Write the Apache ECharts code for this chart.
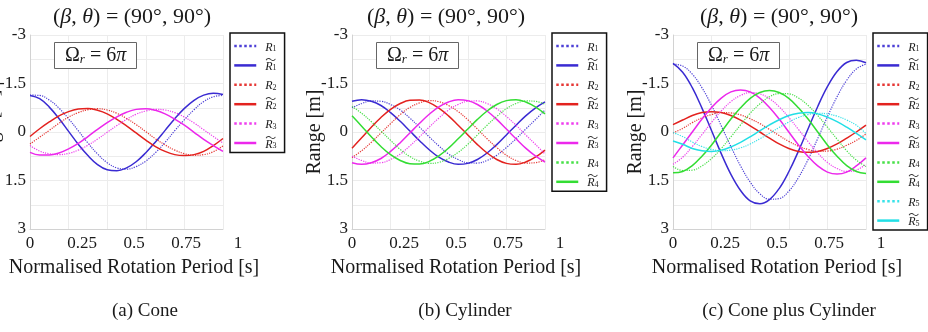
<!DOCTYPE html>
<html>
<head>
<meta charset="utf-8">
<script src="https://cdn.jsdelivr.net/npm/echarts@6/dist/echarts.min.js"></script>
<style>
  html, body { margin: 0; padding: 0; background: #fff; }
  #chart { width: 928px; height: 332px; }
</style>
</head>
<body>
<div id="chart"></div>
<script>
// sample times (s) along the normalised rotation period
const timeS = [0, 0.0465, 0.093, 0.1395, 0.186, 0.2325, 0.279, 0.3255, 0.372, 0.4185, 0.465,
  0.5115, 0.558, 0.6045, 0.651, 0.6975, 0.744, 0.7905, 0.837, 0.8835, 0.93];

const xTickLabels = [0, 0.25, 0.5, 0.75, 1];
const yTickLabels = [-3, -1.5, 0, 1.5, 3];

// (a) Cone  -- "t" = estimated (tilde) range
const coneR1  = [-1.14, -1.13, -0.99, -0.74, -0.41, -0.04, 0.34, 0.68, 0.95, 1.11, 1.15, 1.07, 0.9, 0.64, 0.32, -0.04, -0.38, -0.69, -0.94, -1.09, -1.13];
const coneR1t = [-1.13, -1.03, -0.77, -0.42, -0.02, 0.38, 0.73, 1.01, 1.17, 1.2, 1.11, 0.92, 0.64, 0.31, -0.05, -0.41, -0.73, -0.98, -1.14, -1.2, -1.16];
const coneR2  = [0.37, 0.16, -0.05, -0.27, -0.46, -0.6, -0.69, -0.72, -0.68, -0.58, -0.42, -0.23, -0.01, 0.21, 0.4, 0.56, 0.67, 0.72, 0.7, 0.61, 0.43];
const coneR2t = [0.14, -0.1, -0.31, -0.5, -0.63, -0.71, -0.73, -0.67, -0.56, -0.39, -0.19, 0.03, 0.25, 0.45, 0.6, 0.7, 0.73, 0.7, 0.6, 0.42, 0.2];
const coneR3  = [0.42, 0.59, 0.67, 0.7, 0.66, 0.56, 0.41, 0.22, 0.01, -0.2, -0.39, -0.55, -0.65, -0.7, -0.68, -0.6, -0.46, -0.28, -0.07, 0.14, 0.34];
const coneR3t = [0.63, 0.71, 0.71, 0.65, 0.52, 0.35, 0.14, -0.08, -0.29, -0.47, -0.61, -0.7, -0.72, -0.67, -0.56, -0.4, -0.21, 0.01, 0.23, 0.42, 0.6];

// (b) Cylinder
const cylR1  = [-0.75, -0.88, -0.96, -0.95, -0.85, -0.68, -0.43, -0.15, 0.15, 0.43, 0.68, 0.85, 0.95, 0.96, 0.88, 0.72, 0.48, 0.21, -0.09, -0.38, -0.68];
const cylR1t = [-0.95, -1.0, -0.95, -0.82, -0.6, -0.33, -0.03, 0.27, 0.55, 0.78, 0.93, 1.0, 0.97, 0.85, 0.65, 0.39, 0.09, -0.21, -0.5, -0.74, -0.93];
const cylR2  = [0.79, 0.58, 0.32, 0.03, -0.26, -0.54, -0.76, -0.9, -0.97, -0.94, -0.82, -0.63, -0.38, -0.09, 0.21, 0.48, 0.72, 0.88, 0.96, 0.95, 0.86];
const cylR2t = [0.5, 0.18, -0.15, -0.45, -0.7, -0.88, -0.98, -0.99, -0.91, -0.74, -0.5, -0.21, 0.09, 0.39, 0.65, 0.85, 0.97, 1.0, 0.93, 0.78, 0.56];
const cylR3  = [0.75, 0.88, 0.96, 0.95, 0.85, 0.68, 0.43, 0.15, -0.15, -0.43, -0.68, -0.85, -0.95, -0.96, -0.88, -0.72, -0.48, -0.21, 0.09, 0.38, 0.68];
const cylR3t = [0.95, 1.0, 0.95, 0.82, 0.6, 0.33, 0.03, -0.27, -0.55, -0.78, -0.93, -1.0, -0.97, -0.85, -0.65, -0.39, -0.09, 0.21, 0.5, 0.74, 0.93];
const cylR4  = [-0.79, -0.58, -0.32, -0.03, 0.26, 0.54, 0.76, 0.9, 0.97, 0.94, 0.82, 0.63, 0.38, 0.09, -0.21, -0.48, -0.72, -0.88, -0.96, -0.95, -0.86];
const cylR4t = [-0.5, -0.18, 0.15, 0.45, 0.7, 0.88, 0.98, 0.99, 0.91, 0.74, 0.5, 0.21, -0.09, -0.39, -0.65, -0.85, -0.97, -1.0, -0.93, -0.78, -0.56];

// (c) Cone plus Cylinder
const bothR1  = [-2.1, -2.04, -1.79, -1.37, -0.82, -0.19, 0.45, 1.05, 1.55, 1.91, 2.08, 2.06, 1.83, 1.41, 0.85, 0.2, -0.47, -1.09, -1.6, -1.95, -2.1];
const bothR1t = [-2.12, -1.85, -1.37, -0.74, -0.04, 0.67, 1.31, 1.81, 2.13, 2.22, 2.09, 1.75, 1.23, 0.59, -0.1, -0.79, -1.4, -1.87, -2.15, -2.22, -2.14];
const bothR2  = [0.03, -0.11, -0.29, -0.44, -0.54, -0.6, -0.59, -0.53, -0.41, -0.26, -0.08, 0.11, 0.29, 0.44, 0.54, 0.6, 0.59, 0.53, 0.41, 0.26, 0.06];
const bothR2t = [-0.23, -0.37, -0.51, -0.6, -0.63, -0.6, -0.51, -0.37, -0.19, 0, 0.19, 0.37, 0.51, 0.6, 0.63, 0.6, 0.51, 0.37, 0.19, 0, -0.21];
const bothR3  = [1.0, 0.78, 0.45, 0.08, -0.3, -0.65, -0.94, -1.13, -1.22, -1.18, -1.03, -0.78, -0.45, -0.08, 0.3, 0.65, 0.94, 1.13, 1.22, 1.18, 1.0];
const bothR3t = [0.8, 0.4, 0, -0.4, -0.76, -1.05, -1.24, -1.3, -1.24, -1.05, -0.76, -0.4, 0, 0.4, 0.76, 1.05, 1.24, 1.3, 1.24, 1.05, 0.8];
const bothR4  = [1.07, 1.19, 1.18, 1.05, 0.82, 0.51, 0.15, -0.22, -0.58, -0.87, -1.09, -1.19, -1.18, -1.05, -0.82, -0.51, -0.15, 0.22, 0.58, 0.87, 1.07];
const bothR4t = [1.26, 1.22, 1.04, 0.75, 0.4, 0, -0.4, -0.75, -1.04, -1.22, -1.28, -1.22, -1.04, -0.75, -0.4, 0, 0.4, 0.75, 1.04, 1.22, 1.28];
const bothR5  = [0.02, 0.14, 0.31, 0.45, 0.54, 0.58, 0.56, 0.49, 0.37, 0.21, 0.04, -0.14, -0.31, -0.45, -0.54, -0.58, -0.56, -0.49, -0.37, -0.21, 0.05];
const bothR5t = [0.28, 0.38, 0.51, 0.58, 0.6, 0.56, 0.46, 0.32, 0.15, -0.04, -0.22, -0.38, -0.51, -0.58, -0.6, -0.56, -0.46, -0.32, -0.15, 0.04, 0.24];

const colors = ['#3a2bd2', '#e3221f', '#ec28ec', '#33dd33', '#22dfe6'];

const panels = [
  { key: 'a', left: 30, caption: '(a) Cone', titleX: 127, capX: 140,
    sets: [coneR1, coneR1t, coneR2, coneR2t, coneR3, coneR3t] },
  { key: 'b', left: 352, caption: '(b) Cylinder', titleX: 441, capX: 460,
    sets: [cylR1, cylR1t, cylR2, cylR2t, cylR3, cylR3t, cylR4, cylR4t] },
  { key: 'c', left: 673, caption: '(c) Cone plus Cylinder', titleX: 774, capX: 784,
    sets: [bothR1, bothR1t, bothR2, bothR2t, bothR3, bothR3t, bothR4, bothR4t, bothR5, bothR5t] }
];

const serif = 'Liberation Serif';
const ink = '#1a1a1a';
const gridTop = 35, gridH = 194, boxW = 193, labelW = 208;

const grid = [], xAxis = [], yAxis = [], series = [], legend = [], title = [];

panels.forEach((p, i) => {
  grid.push({ left: p.left, top: gridTop, width: boxW, height: gridH, outerBoundsMode: 'none' });
  grid.push({ left: p.left, top: gridTop, width: labelW, height: gridH, outerBoundsMode: 'none' });

  xAxis.push({
    gridIndex: 2 * i, type: 'value', min: 0, max: 0.93, interval: 0.186,
    axisLabel: { show: false }, axisTick: { show: false },
    axisLine: { onZero: false, lineStyle: { color: '#d2d2d2' } },
    splitLine: { lineStyle: { color: '#ececec' } }
  });
  xAxis.push({
    gridIndex: 2 * i + 1, type: 'value', min: 0, max: 1, interval: 0.25,
    axisLine: { show: false }, axisTick: { show: false }, splitLine: { show: false },
    axisLabel: { fontFamily: serif, fontSize: 17, color: ink, margin: 6,
      formatter: v => xTickLabels.indexOf(v) >= 0 ? String(v) : '' },
    name: 'Normalised Rotation Period [s]', nameLocation: 'middle', nameGap: 29,
    nameMoveOverlap: false,
    nameTextStyle: { fontFamily: serif, fontSize: 20, color: ink }
  });

  yAxis.push({
    gridIndex: 2 * i, type: 'value', min: -3, max: 3, interval: 0.75, inverse: true,
    axisLine: { show: true, onZero: false, lineStyle: { color: '#d2d2d2' } },
    axisTick: { show: false },
    splitLine: { lineStyle: { color: '#ececec' } },
    axisLabel: { fontFamily: serif, fontSize: 17, color: ink, margin: 4,
      formatter: v => yTickLabels.some(t => Math.abs(t - v) < 1e-9) ? String(v) : '' },
    name: 'Range [m]', nameLocation: 'middle', nameRotate: 90, nameGap: 27,
    nameMoveOverlap: false,
    nameTextStyle: { fontFamily: serif, fontSize: 20, color: ink }
  });
  yAxis.push({ gridIndex: 2 * i + 1, show: false, min: 0, max: 1 });

  const names = [];
  p.sets.forEach((arr, k) => {
    const idx = Math.floor(k / 2) + 1;
    const est = k % 2 === 1;
    const name = p.key + idx + (est ? 't' : '');
    names.push(name);
    series.push({
      type: 'line', name: name, xAxisIndex: 2 * i, yAxisIndex: 2 * i,
      data: timeS.map((t, j) => [t, arr[j]]),
      symbol: 'none', showSymbol: false, smooth: 0.4, silent: true,
      itemStyle: { color: colors[idx - 1] },
      lineStyle: { color: colors[idx - 1], width: est ? 1.5 : 1.2, type: est ? 'solid' : 'dotted',
        opacity: est ? 1 : 0.9 }
    });
  });

  legend.push({
    left: p.left + 200, top: 33, orient: 'vertical', data: names,
    selectedMode: false, itemWidth: 22, itemHeight: 12, itemGap: 0.9,
    padding: [2, 8, 2, 3], borderColor: '#111', borderWidth: 1.5, backgroundColor: '#fff',
    itemStyle: { opacity: 0 },
    lineStyle: { width: 2.5 },
    formatter: n => {
      const idx = n.charAt(1);
      const tilde = n.charAt(2) === 't' ? '〜' : ' ';
      return '{t|' + tilde + '}\n{r|R}{s|' + idx + '}';
    },
    textStyle: {
      rich: {
        t: { fontFamily: 'Noto Sans CJK SC', fontSize: 11, lineHeight: 3, color: '#333', padding: [0, 0, 0, 4] },
        r: { fontFamily: serif, fontStyle: 'italic', fontSize: 12, lineHeight: 11, color: ink, padding: [0, 0, 0, 4] },
        s: { fontFamily: serif, fontSize: 8, lineHeight: 11, verticalAlign: 'bottom', color: ink }
      }
    }
  });

  title.push({
    text: '({i|β}, {i|θ}) = (90°, 90°)', left: p.titleX, top: 1, textAlign: 'center',
    textStyle: { fontFamily: serif, fontSize: 22, fontWeight: 'normal', color: ink,
      rich: { i: { fontFamily: serif, fontSize: 22, fontStyle: 'italic', fontWeight: 'normal', color: ink } } }
  });
  title.push({
    text: '{o|Ω}{s|r}{o| = 6}{i|π}', left: p.left + 24, top: 42,
    padding: [3, 11], borderColor: '#666', borderWidth: 1, backgroundColor: '#fff',
    textStyle: {
      fontWeight: 'normal',
      rich: {
        o: { fontFamily: serif, fontSize: 20, fontWeight: 'normal', lineHeight: 21, color: ink },
        s: { fontFamily: serif, fontSize: 13, fontStyle: 'italic', fontWeight: 'normal', lineHeight: 21, verticalAlign: 'bottom', color: ink },
        i: { fontFamily: serif, fontSize: 20, fontStyle: 'italic', fontWeight: 'normal', lineHeight: 21, color: ink }
      }
    }
  });
  title.push({
    text: p.caption, left: p.capX, top: 297, textAlign: 'center',
    textStyle: { fontFamily: serif, fontSize: 19, fontWeight: 'normal', color: ink }
  });
});

const chart = echarts.init(document.getElementById('chart'), null, { renderer: 'canvas' });
chart.setOption({
  animation: false,
  backgroundColor: '#fff',
  title: title,
  legend: legend,
  grid: grid,
  xAxis: xAxis,
  yAxis: yAxis,
  series: series
});
</script>
</body>
</html>
